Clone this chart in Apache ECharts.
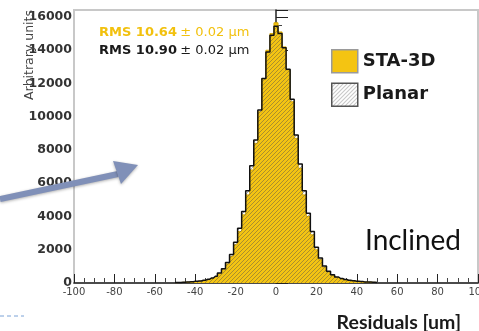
<!DOCTYPE html>
<html><head><meta charset="utf-8">
<script src="https://cdn.jsdelivr.net/npm/echarts@6/dist/echarts.min.js"></script>
<style>html,body{margin:0;padding:0;background:#fff}#c{width:479px;height:331px}</style>
</head><body><div id="c"></div>
<script>
// Bin centres (um), 2 um bins
var binCenters = [-50,-48,-46,-44,-42,-40,-38,-36,-34,-32,-30,-28,-26,-24,-22,-20,-18,-16,-14,-12,-10,-8,-6,-4,-2,0,2,4,6,8,10,12,14,16,18,20,22,24,26,28,30,32,34,36,38,40,42,44,46,48,50];
var staCounts = [20,30,40,50,70,90,110,140,200,280,380,560,800,1150,1600,2300,3100,4100,5300,6800,8400,10300,12300,14000,15000,15650,15100,14200,12800,10900,8700,6900,5300,4000,2900,2000,1400,950,650,450,330,250,190,150,120,100,80,60,50,40,30];
var planarCounts = [25,35,45,60,80,100,125,160,220,300,410,600,860,1230,1720,2450,3300,4300,5550,7050,8600,10400,12300,13900,14900,15450,15000,14150,12850,11050,8900,7150,5550,4200,3100,2150,1500,1030,710,490,360,270,210,165,130,110,85,65,55,45,35];
var seriesNames = ['STA-3D', 'Planar'];
var rmsTexts = ['RMS 10.64', 'RMS 10.90'];
var rmsErr = '± 0.02 μm';
var xTicks = {min: -100, max: 100, step: 20};
var yTicks = {min: 0, max: 16420, step: 2000};

function pairs(xs, ys) { return xs.map(function (x, i) { return [x, ys[i]]; }); }

function hatch(bg, lineColor) {
  var c = document.createElement('canvas');
  c.width = 4; c.height = 4;
  var g = c.getContext('2d');
  if (bg) { g.fillStyle = bg; g.fillRect(0, 0, 4, 4); }
  g.strokeStyle = lineColor; g.lineWidth = 1;
  g.beginPath(); g.moveTo(-1, 5); g.lineTo(5, -1); g.stroke();
  g.beginPath(); g.moveTo(-1, 1); g.lineTo(1, -1); g.stroke();
  g.beginPath(); g.moveTo(3, 5); g.lineTo(5, 3); g.stroke();
  return {image: c, repeat: 'repeat'};
}
var yellow = '#f4c412';
var planarHatch = hatch(null, 'rgba(80,80,80,0.45)');
var legendHatch = hatch('#ffffff', 'rgba(90,90,90,0.5)');
var dv = '"DejaVu Sans", sans-serif';

var chart = echarts.init(document.getElementById('c'), null, {renderer: 'canvas'});
chart.setOption({
  animation: false,
  backgroundColor: '#fff',
  grid: {left: 74, right: 1, top: 10, bottom: 48, containLabel: false, outerBoundsMode: 'none',
    show: true, borderColor: '#c8c8c8', borderWidth: 2},
  legend: {
    orient: 'vertical', left: 331, top: 49, padding: 0, itemWidth: 26, itemHeight: 23, itemGap: 9,
    selectedMode: false,
    textStyle: {fontFamily: dv, fontWeight: 'bold', fontSize: 18, color: '#1a1a1a'},
    data: [
      {name: seriesNames[0], icon: 'rect', itemStyle: {color: yellow, borderColor: '#9a9a9a', borderWidth: 1.5}},
      {name: seriesNames[1], icon: 'rect', itemStyle: {color: legendHatch, borderColor: '#555', borderWidth: 1.5}}
    ]
  },
  xAxis: {
    type: 'value', min: xTicks.min, max: xTicks.max, interval: xTicks.step,
    name: 'Residuals [um]', nameLocation: 'end', nameGap: -17,
    nameTextStyle: {fontFamily: 'Lato', fontWeight: 'bold', fontSize: 19.5, color: '#1a1a1a', align: 'right', verticalAlign: 'top', padding: [30, 0, 0, 0]},
    axisLine: {show: true, onZero: false, lineStyle: {color: '#222', width: 1.5}},
    axisTick: {show: true, inside: true, length: 9, lineStyle: {color: '#222'}},
    minorTick: {show: true, splitNumber: 4, length: 5, lineStyle: {color: '#444'}},
    axisLabel: {fontFamily: dv, fontSize: 10, color: '#444', margin: 4, showMaxLabel: true, hideOverlap: false},
    splitLine: {show: false}
  },
  yAxis: {
    type: 'value', min: yTicks.min, max: yTicks.max, interval: yTicks.step,
    axisLine: {show: true, lineStyle: {color: '#222', width: 1.5}},
    axisTick: {show: true, inside: true, length: 12, lineStyle: {color: '#222'}},
    minorTick: {show: true, splitNumber: 4, length: 6, lineStyle: {color: '#444'}},
    axisLabel: {fontFamily: dv, fontWeight: 'bold', fontSize: 12.5, color: '#333', margin: 2, showMaxLabel: false,
      formatter: function (v) { return String(v); }},
    splitLine: {show: false}
  },
  series: [
    {
      name: seriesNames[0], type: 'line', step: 'middle', symbol: 'none',
      data: pairs(binCenters, staCounts),
      lineStyle: {color: '#d8a800', width: 1},
      itemStyle: {color: yellow},
      areaStyle: {color: yellow, opacity: 1},
      z: 2
    },
    {
      name: seriesNames[1], type: 'line', step: 'middle', symbol: 'none',
      data: pairs(binCenters, planarCounts),
      lineStyle: {color: '#111', width: 1.5},
      itemStyle: {color: '#555'},
      areaStyle: {color: planarHatch, opacity: 1},
      z: 3
    }
  ],
  graphic: [
    {type: 'text', x: 30, y: 10, rotation: Math.PI / 2, z: 10, style: {
      text: 'Arbitrary units', fontFamily: dv, fontSize: 12.5, fill: '#444',
      align: 'right', verticalAlign: 'middle'}},
    {type: 'text', left: 99, top: 26, z: 10, style: {
      text: '{b|' + rmsTexts[0] + '} {n|' + rmsErr + '}',
      rich: {
        b: {fontFamily: dv, fontWeight: 'bold', fontSize: 13, fill: '#f2c10e'},
        n: {fontFamily: dv, fontSize: 13, fill: '#f2c10e'}
      }}},
    {type: 'text', left: 99, top: 44, z: 10, style: {
      text: '{b|' + rmsTexts[1] + '} {n|' + rmsErr + '}',
      rich: {
        b: {fontFamily: dv, fontWeight: 'bold', fontSize: 13, fill: '#1a1a1a'},
        n: {fontFamily: dv, fontSize: 13, fill: '#1a1a1a'}
      }}},
    {type: 'text', left: 365, top: 227, z: 10, style: {
      text: 'Inclined', fontFamily: 'Lato', fontSize: 28, fill: '#111'}},
    {type: 'polyline', z: 20, shape: {points: [[0, 199], [118, 174]]},
      style: {stroke: '#8090b8', lineWidth: 6, shadowBlur: 3, shadowColor: 'rgba(0,0,0,0.3)', shadowOffsetY: 1}},
    {type: 'polygon', z: 21, shape: {points: [[138, 165], [113, 161], [121, 184]]},
      style: {fill: '#8090b8', shadowBlur: 3, shadowColor: 'rgba(0,0,0,0.3)', shadowOffsetY: 1}},
    {type: 'line', z: 20, shape: {x1: 0, y1: 316, x2: 24, y2: 316},
      style: {stroke: '#7aa2d6', lineWidth: 1, lineDash: [4, 3]}}
  ]
});
</script>
</body></html>
